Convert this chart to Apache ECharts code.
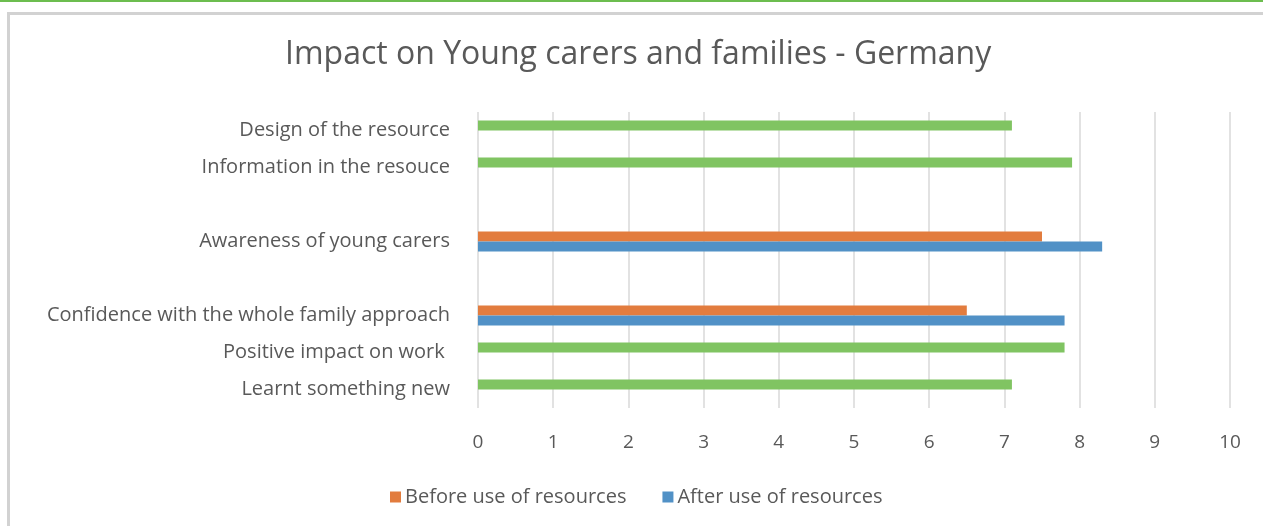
<!DOCTYPE html>
<html>
<head>
<meta charset="utf-8">
<script src="https://cdn.jsdelivr.net/npm/echarts@6/dist/echarts.min.js"></script>
<style>
html,body{margin:0;padding:0;background:#fff;}
#c{width:1263px;height:526px;}
</style>
</head>
<body>
<div id="c"></div>
<script>
const categories = ["Design of the resource", "Information in the resouce", " ", "Awareness of young carers", "  ", "Confidence with the whole family approach", "Positive impact on work ", "Learnt something new"];
const ratingValues = [7.1, 7.9, null, null, null, null, 7.8, 7.1];
const beforeValues = [null, null, null, 7.5, null, 6.5, null, null];
const afterValues = [null, null, null, 8.3, null, 7.8, null, null];
const xTicks = [0, 10, 1]; // min, max, interval

const TFONT = 'Open Sans';
const FONT = 'Open Sans';
const TXT = '#595959';

const chart = echarts.init(document.getElementById('c'));
chart.setOption({
  animation: false,
  backgroundColor: '#ffffff',
  title: {
    text: 'Impact on Young carers and families - Germany',
    left: 280,
    top: 34,
    textStyle: { fontFamily: TFONT, fontSize: 32, fontWeight: 'normal', color: TXT }
  },
  graphic: [
    { type: 'rect', shape: { x: 0, y: 0, width: 1263, height: 2 }, style: { fill: '#6cbd4f' } },
    { type: 'line', shape: { x1: 8, y1: 13.5, x2: 1263, y2: 13.5 }, style: { stroke: '#d2d2d2', lineWidth: 3 } },
    { type: 'line', shape: { x1: 8.5, y1: 12, x2: 8.5, y2: 526 }, style: { stroke: '#d2d2d2', lineWidth: 3 } }
  ],
  legend: {
    data: ['Before use of resources', 'After use of resources'],
    left: 385,
    top: 482,
    itemWidth: 11,
    itemHeight: 11,
    itemGap: 36,
    icon: 'rect',
    textStyle: { fontFamily: FONT, fontSize: 20, color: TXT, padding: [0, 0, 0, -1] }
  },
  grid: { left: 478, right: 33, top: 112, bottom: 118, containLabel: false },
  xAxis: {
    type: 'value',
    min: xTicks[0], max: xTicks[1], interval: xTicks[2],
    axisLine: { show: false },
    axisTick: { show: false },
    splitLine: { show: true, lineStyle: { color: '#d9d9d9', width: 1.5 } },
    axisLabel: { margin: 25, fontFamily: FONT, fontSize: 19, color: TXT }
  },
  yAxis: {
    type: 'category',
    data: categories,
    inverse: true,
    axisLine: { show: false },
    axisTick: { show: false },
    axisLabel: { margin: 28, fontFamily: FONT, fontSize: 20, color: TXT }
  },
  series: [
    { name: 'Before use of resources', type: 'bar', stack: 's', data: beforeValues, barWidth: 10, barGap: '0%', itemStyle: { color: '#e27c3e' } },
    { name: 'Rating', type: 'bar', stack: 's', data: ratingValues, barWidth: 10, barGap: '0%', itemStyle: { color: '#80c462' } },
    { name: 'After use of resources', type: 'bar', data: afterValues, barWidth: 10, barGap: '0%', itemStyle: { color: '#5191c6' } }
  ]
});
</script>
</body>
</html>
